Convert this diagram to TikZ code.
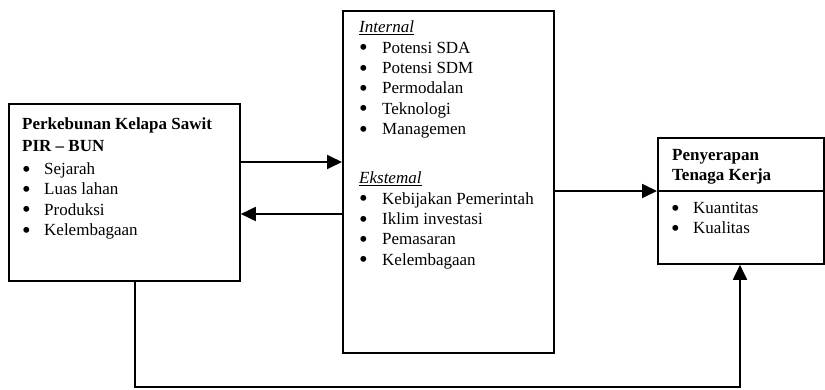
\documentclass[tikz,border=0pt]{standalone}
\usepackage{fontspec}
\usepackage{graphicx}
\setmainfont{Liberation Serif}
\usetikzlibrary{arrows.meta}
\begin{document}
\begin{tikzpicture}[x=1pt,y=-1pt,
  box/.style={draw,line width=1.8pt,anchor=north west,inner sep=0pt},
  txt/.style={anchor=north west,inner sep=0pt,align=left,font=\fontsize{17}{20.3}\selectfont},
  conn/.style={line width=1.8pt},
  arr/.style={conn,-{Triangle[length=15pt,width=14pt]}}]
\useasboundingbox (0,0) rectangle (825,390);
% boxes
\node[box,minimum width=231pt,minimum height=177pt] (lb) at (8,103) {};
\node[box,minimum width=211pt,minimum height=342pt] (mb) at (342,10) {};
\node[box,minimum width=166pt,minimum height=126pt] (rb) at (657,137) {};
\coordinate (dv) at (0,191);
\draw[conn] (rb.west |- dv) -- (rb.east |- dv);
% texts
\newcommand{\bl}[2]{\makebox[#1][l]{\smash{\raisebox{-2.6pt}{\scalebox{1.45}{\textbullet}}}}#2}
\node[txt] (lt) at (22,118) {\textbf{Perkebunan Kelapa Sawit}\\[1.5pt] \textbf{PIR -- BUN}\\[2.5pt]
  \bl{22pt}{Sejarah}\\ \bl{22pt}{Luas lahan}\\ \bl{22pt}{Produksi}\\ \bl{22pt}{Kelembagaan}};
\node[txt] (mt1) at (359,21) {\underline{\textit{Internal}}\\
  \bl{23pt}{Potensi SDA}\\ \bl{23pt}{Potensi SDM}\\ \bl{23pt}{Permodalan}\\ \bl{23pt}{Teknologi}\\ \bl{23pt}{Managemen}};
\node[txt] (mt2) at (359,172) {\underline{\textit{Ekstemal}}\\
  \bl{23pt}{Kebijakan Pemerintah}\\ \bl{23pt}{Iklim investasi}\\ \bl{23pt}{Pemasaran}\\ \bl{23pt}{Kelembagaan}};
\node[txt] (rt1) at (672,149) {\textbf{Penyerapan}\\ \textbf{Tenaga Kerja}};
\node[txt] (rt2) at (671,202) {\bl{22pt}{Kuantitas}\\ \bl{22pt}{Kualitas}};
% connectors
\coordinate (a1) at (0,162);
\coordinate (a2) at (0,214);
\coordinate (b1) at (135,387);
\coordinate (b2) at (740,387);
\draw[arr] (lb.east |- a1) -- (mb.west |- a1);
\draw[arr] (mb.west |- a2) -- (lb.east |- a2);
\draw[arr] (mb.east |- dv) -- (rb.west |- dv);
\draw[arr] (lb.south -| b1) -- (b1) -- (b2) -- (rb.south -| b2);
\end{tikzpicture}
\end{document}
